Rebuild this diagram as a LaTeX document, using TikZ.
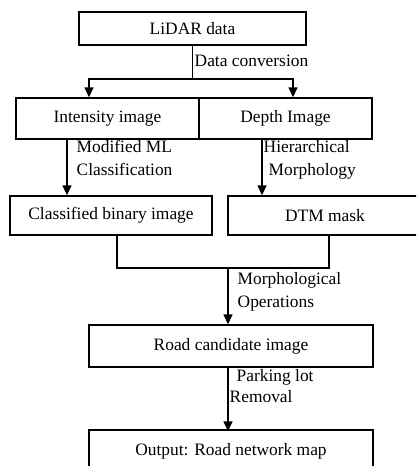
\documentclass[tikz,border=0pt]{standalone}
\usepackage{fontspec}
\setmainfont{Liberation Serif}
\usetikzlibrary{arrows.meta}
\tikzset{
  box/.style={draw, line width=1.4pt, inner sep=0pt, font=\fontsize{17.4pt}{21pt}\selectfont},
  lbl/.style={anchor=west, inner sep=0pt, text height=12pt, text depth=4pt, font=\fontsize{17.4pt}{21pt}\selectfont},
  arr/.style={-{Triangle[length=10pt,width=9pt]}},
}
\begin{document}
\begin{tikzpicture}[x=1pt,y=-1pt,line width=1.4pt]
\clip (0,0) rectangle (416,466);
% boxes
\node[box, minimum width=227pt, minimum height=33pt] (lidar) at (192.5,28.5) {LiDAR data};
\node[box, minimum width=183pt, minimum height=41pt] (intens) at (107.5,118.5) {Intensity image};
\node[box, minimum width=173pt, minimum height=41pt] (depth) at (285.5,118.5) {Depth Image};
\node[box, minimum width=202pt, minimum height=39pt] (classified) at (111,215.5) {Classified binary image};
\node[box, minimum width=194pt, minimum height=39pt] (dtm) at (325,215.5) {DTM mask};
\node[box, minimum width=284pt, minimum height=42pt] (road) at (231,346) {Road candidate image};
\node[box, minimum width=284pt, minimum height=42pt] (output) at (231,451) {Output: Road network map};

% connectors
\coordinate (split) at (192.5,79);
\coordinate (merge) at (228,268);
\draw (lidar.south) -- (split);
\draw[arr] (split) -| ([xshift=-18.5pt]intens.north);
\draw[arr] (split) -| ([xshift=7.5pt]depth.north);
\draw[arr] ([xshift=-40.5pt]intens.south) -- ([xshift=-40.5pt]intens.south |- classified.north);
\draw[arr] ([xshift=-23.5pt]depth.south) -- ([xshift=-23.5pt]depth.south |- dtm.north);
\draw ([xshift=6pt]classified.south) |- (merge) -| ([xshift=4pt]dtm.south);
\draw[arr] (merge) -- (merge |- road.north);
\draw[arr] ([xshift=-3pt]road.south) -- ([xshift=-3pt,yshift=-2pt]output.north);

% labels
\node[lbl] (conv) at (194,62) {Data conversion};
\node[lbl] (ml1) at (76,148) {Modified ML};
\node[lbl] (ml2) at (76,171) {Classification};
\node[lbl] (hm1) at (263,148) {Hierarchical};
\node[lbl] (hm2) at (268,171) {Morphology};
\node[lbl] (mo1) at (237,280) {Morphological};
\node[lbl] (mo2) at (237,303) {Operations};
\node[lbl] (pl1) at (236,377) {Parking lot};
\node[lbl] (pl2) at (229,398) {Removal};
\end{tikzpicture}
\end{document}
